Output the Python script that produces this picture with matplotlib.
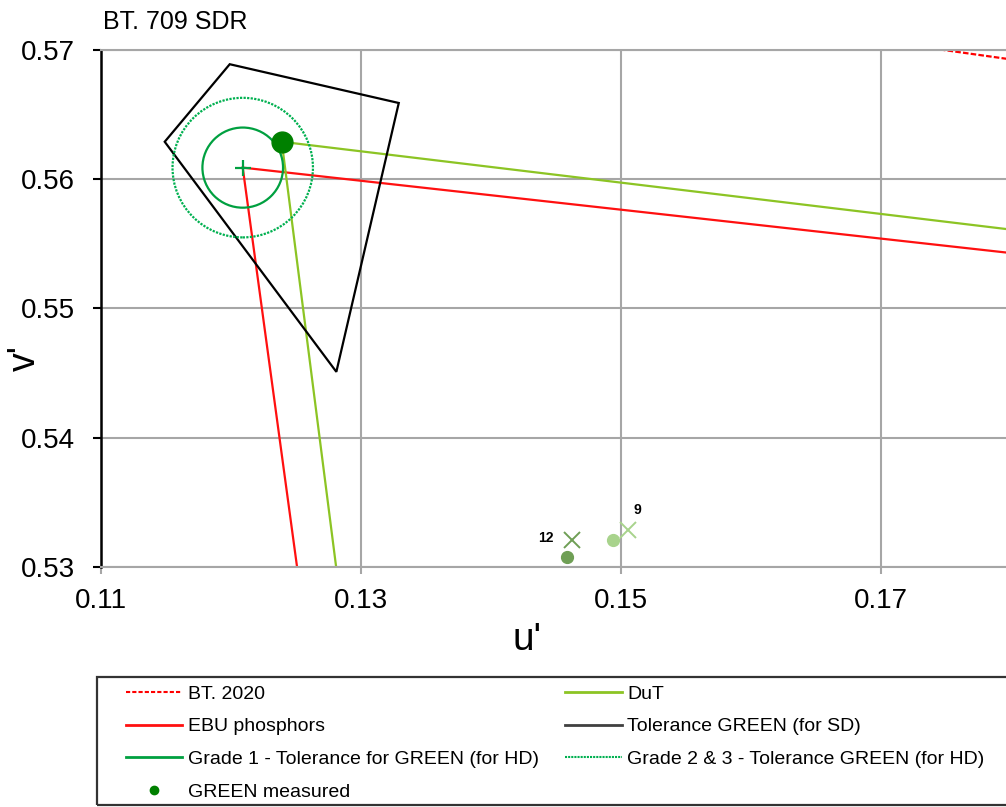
"""u'v' chromaticity close-up around the GREEN primary (BT. 709 SDR check)."""

import matplotlib

matplotlib.use("Agg")
import matplotlib.pyplot as plt
from matplotlib.lines import Line2D
from matplotlib.patches import Circle, Polygon, Rectangle

plt.rcParams["font.family"] = ["Liberation Sans", "DejaVu Sans"]

# primaries as (u', v'): red, green, blue
BT2020_U = [0.5566, 0.0556, 0.1593]
BT2020_V = [0.5162, 0.5868, 0.1258]
EBU_U = [0.4507, 0.1209, 0.1754]
EBU_V = [0.5240, 0.5609, 0.1579]
DUT_U = [0.4507, 0.1239, 0.1754]
DUT_V = [0.5233, 0.5629, 0.1579]

# SD tolerance quadrilateral for green
TOL_SD_U = [0.1149, 0.1199, 0.1329, 0.1281]
TOL_SD_V = [0.5629, 0.5689, 0.5659, 0.5451]

# HD tolerance circles around the reference green
HD_CENTER = (0.1209, 0.5609)
GRADE1_RADIUS = 0.0031
GRADE23_RADIUS = 0.0054

GREEN_MEASURED = (0.1239, 0.5629)

# two further readings: label, cross (u', v'), dot (u', v')
EXTRA_LABELS = ["12", "9"]
EXTRA_CROSS_U = [0.1462, 0.1505]
EXTRA_CROSS_V = [0.5321, 0.5329]
EXTRA_DOT_U = [0.1458, 0.1494]
EXTRA_DOT_V = [0.5308, 0.5321]
EXTRA_COLORS = ["#6f9f55", "#a8d38c"]

X_TICKS = [0.11, 0.13, 0.15, 0.17]
Y_TICKS = [0.53, 0.54, 0.55, 0.56, 0.57]

C_2020 = "#ff0000"
C_EBU = "#ff1010"
C_DUT = "#8cc424"
C_SD = "#000000"
C_G1 = "#00a040"
C_G23 = "#00b050"
C_MEAS = "#008000"
GRID = "#a6a6a6"

fig = plt.figure(figsize=(10.06, 8.07), dpi=100)
ax = fig.add_axes([101 / 1006, 1 - 567 / 807, 905 / 1006, 517 / 807])
ax.set_xlim(0.11, 0.1796)
ax.set_ylim(0.53, 0.57)

lw = 1.6
ax.add_patch(Polygon(list(zip(BT2020_U, BT2020_V)), closed=True, fill=False,
                     edgecolor=C_2020, linewidth=lw, linestyle=(0, (2.5, 1.0))))
ax.add_patch(Polygon(list(zip(EBU_U, EBU_V)), closed=True, fill=False,
                     edgecolor=C_EBU, linewidth=lw))
ax.add_patch(Polygon(list(zip(DUT_U, DUT_V)), closed=True, fill=False,
                     edgecolor=C_DUT, linewidth=lw))
ax.add_patch(Polygon(list(zip(TOL_SD_U, TOL_SD_V)), closed=True, fill=False,
                     edgecolor=C_SD, linewidth=lw))
ax.add_patch(Circle(HD_CENTER, GRADE1_RADIUS, fill=False, edgecolor=C_G1, linewidth=lw))
ax.add_patch(Circle(HD_CENTER, GRADE23_RADIUS, fill=False, edgecolor=C_G23,
                    linewidth=lw, linestyle=(0, (1, 0.6))))
ax.plot(*HD_CENTER, marker="+", markersize=11, markeredgewidth=1.6, color=C_G1)
ax.plot(*GREEN_MEASURED, marker="o", markersize=15, color=C_MEAS, zorder=5)

for cu, cv, du, dv, col in zip(EXTRA_CROSS_U, EXTRA_CROSS_V,
                               EXTRA_DOT_U, EXTRA_DOT_V, EXTRA_COLORS):
    ax.plot(cu, cv, marker="x", markersize=11, markeredgewidth=1.4, color=col)
    ax.plot(du, dv, marker="o", markersize=8.5, color=col)
EXTRA_OFFSETS = [(-19, 1.5), (7, 14)]
for lab, cu, cv, off in zip(EXTRA_LABELS, EXTRA_CROSS_U, EXTRA_CROSS_V, EXTRA_OFFSETS):
    ax.annotate(lab, (cu, cv), xytext=off, textcoords="offset points",
                ha="center", va="center", fontsize=10, weight="bold")

ax.set_xticks(X_TICKS)
ax.set_yticks(Y_TICKS)
ax.set_xticklabels([f"{t:.2f}" for t in X_TICKS])
ax.set_yticklabels([f"{t:.2f}" for t in Y_TICKS])
ax.grid(True, color=GRID, linewidth=1.5)
ax.set_axisbelow(True)
ax.spines["right"].set_visible(False)
for side in ("top", "bottom"):
    ax.spines[side].set_color(GRID)
    ax.spines[side].set_linewidth(1.5)
ax.spines["left"].set_color("black")
ax.spines["left"].set_linewidth(1.8)
ax.tick_params(axis="y", length=6, width=1.5, color="black", pad=13, labelsize=20)
ax.tick_params(axis="x", length=5, width=1.5, color=GRID, pad=10, labelsize=20)

ax.set_xlabel("u'", fontsize=28, va="top")
ax.xaxis.set_label_coords(0.471, -0.106)
ax.set_ylabel("v'", fontsize=27, va="center")
ax.yaxis.set_label_coords(-0.084, 0.404)
fig.text(103 / 1006, 1 - 22 / 807, "BT. 709 SDR", fontsize=18, va="center", ha="left")

handles = [
    Line2D([], [], color=C_2020, linewidth=1.5, linestyle=(0, (2, 1))),
    Line2D([], [], color=C_EBU, linewidth=2),
    Line2D([], [], color=C_G1, linewidth=2),
    Line2D([], [], color=C_MEAS, marker="o", markersize=6, linestyle="none"),
    Line2D([], [], color=C_DUT, linewidth=2),
    Line2D([], [], color="#404040", linewidth=2),
    Line2D([], [], color=C_G23, linewidth=1.5, linestyle=(0, (1, 0.5))),
]
labels = [
    "BT. 2020",
    "EBU phosphors",
    "Grade 1 - Tolerance for GREEN (for HD)",
    "GREEN measured",
    "DuT",
    "Tolerance GREEN (for SD)",
    "Grade 2 & 3 - Tolerance GREEN (for HD)",
]
fig.legend(handles, labels, loc="upper left", bbox_to_anchor=(126 / 1006, 1 - 685 / 807),
           ncol=2, frameon=False, fontsize=14, handlelength=2.9, handletextpad=0.3,
           columnspacing=1.34, labelspacing=0.78, borderpad=0, borderaxespad=0)
fig.patches.append(Rectangle((97 / 1006, 1 - 805 / 807), 1.0, 128 / 807,
                             transform=fig.transFigure, fill=False,
                             edgecolor="#333333", linewidth=1.6))

fig.savefig("out.png", dpi=100, facecolor="white")
